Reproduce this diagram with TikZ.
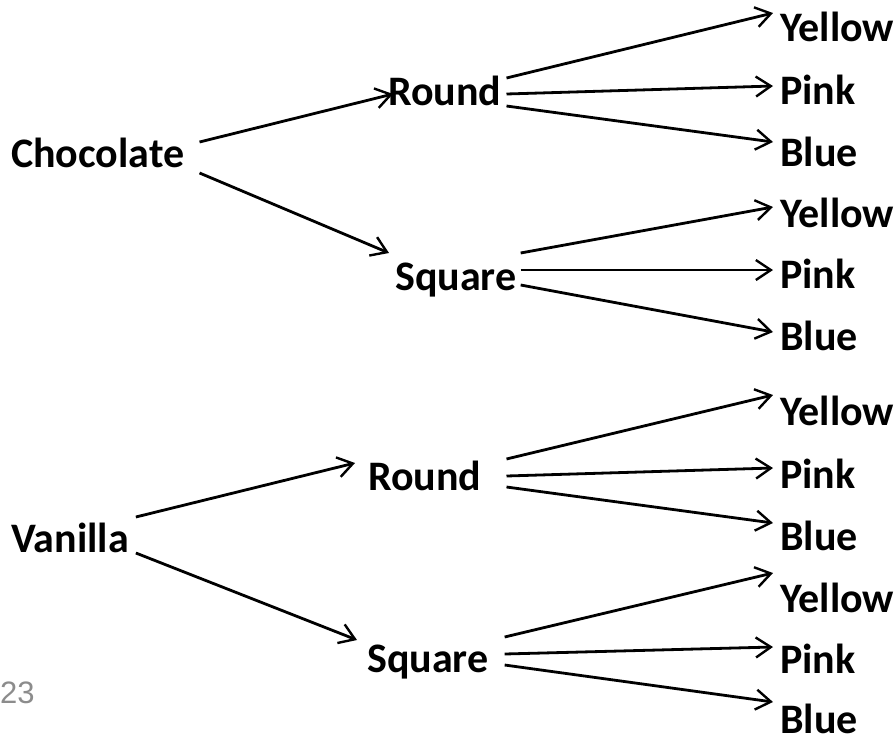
\documentclass[tikz,border=0pt]{standalone}
\usepackage{fontspec}
\setmainfont{Carlito}
\newfontfamily\numfont{Liberation Sans}
\usetikzlibrary{arrows.meta}

\tikzset{
  word/.style={inner sep=0pt, anchor=base west, font=\fontsize{42}{50}\selectfont\bfseries},
  arr/.style={line width=2.8pt, -{Straight Barb[length=15pt,width=20pt,line width=2.4pt]}}
}

\begin{document}
\begin{tikzpicture}[x=1pt, y=-1pt]
					\useasboundingbox (0,0) rectangle (895,737);

					% chocolate branch
					\node[word] (choc) at (11,167)  {Chocolate};
					\node[word] (r1)   at (388,105) {Round};
					\node[word] (s1)   at (395,290) {Square};
					\node[word] (y1)   at (780,41)  {Yellow};
					\node[word] (p1)   at (780,104) {Pink};
					\node[word] (b1)   at (780,166) {Blue};
					\node[word] (y2)   at (780,227) {Yellow};
					\node[word] (p2)   at (780,288) {Pink};
					\node[word] (b2)   at (780,350) {Blue};

					% vanilla branch
					\node[word] (van)  at (11,552)  {Vanilla};
					\node[word] (r2)   at (368,490) {Round};
					\node[word] (s2)   at (367,672) {Square};
					\node[word] (y3)   at (780,425) {Yellow};
					\node[word] (p3)   at (780,488) {Pink};
					\node[word] (b3)   at (780,550) {Blue};
					\node[word] (y4)   at (780,612) {Yellow};
					\node[word] (p4)   at (780,673) {Pink};
					\node[word] (b4)   at (780,733) {Blue};

					\node[inner sep=0pt, anchor=base west, text=black!45, font=\numfont\fontsize{31}{36}\selectfont] (num) at (0,703) {23};

					\draw[arr] ([shift={(15,-25)}]choc.base east) -- ([shift={(5,-11)}]r1.base west);
					\draw[arr] ([shift={(15,6)}]choc.base east)   -- ([shift={(-6,-37)}]s1.base west);

					\draw[arr] ([shift={(5,-27)}]r1.base east) -- ([shift={(-7,-28)}]y1.base west);
					\draw[arr] ([shift={(5,-11)}]r1.base east) -- ([shift={(-7,-18)}]p1.base west);
					\draw[arr] ([shift={(5,1)}]r1.base east)   -- ([shift={(-7,-24)}]b1.base west);

					\draw[arr] ([shift={(4,-37)}]s1.base east) -- ([shift={(-7,-20)}]y2.base west);
					\draw[arr] ([shift={(4,-20)}]s1.base east) -- ([shift={(-7,-18)}]p2.base west);
					\draw[arr] ([shift={(4,-5)}]s1.base east)  -- ([shift={(-7,-18)}]b2.base west);

					\draw[arr] ([shift={(7,-35)}]van.base east) -- ([shift={(-13,-27)}]r2.base west);
					\draw[arr] ([shift={(7,1)}]van.base east)   -- ([shift={(-10,-32)}]s2.base west);

					\draw[arr] ([shift={(25,-31)}]r2.base east) -- ([shift={(-7,-30)}]y3.base west);
					\draw[arr] ([shift={(25,-14)}]r2.base east) -- ([shift={(-7,-20)}]p3.base west);
					\draw[arr] ([shift={(25,-3)}]r2.base east)  -- ([shift={(-7,-27)}]b3.base west);

					\draw[arr] ([shift={(16,-35)}]s2.base east) -- ([shift={(-7,-39)}]y4.base west);
					\draw[arr] ([shift={(16,-18)}]s2.base east) -- ([shift={(-7,-26)}]p4.base west);
					\draw[arr] ([shift={(16,-7)}]s2.base east)  -- ([shift={(-7,-31)}]b4.base west);
\end{tikzpicture}
\end{document}
